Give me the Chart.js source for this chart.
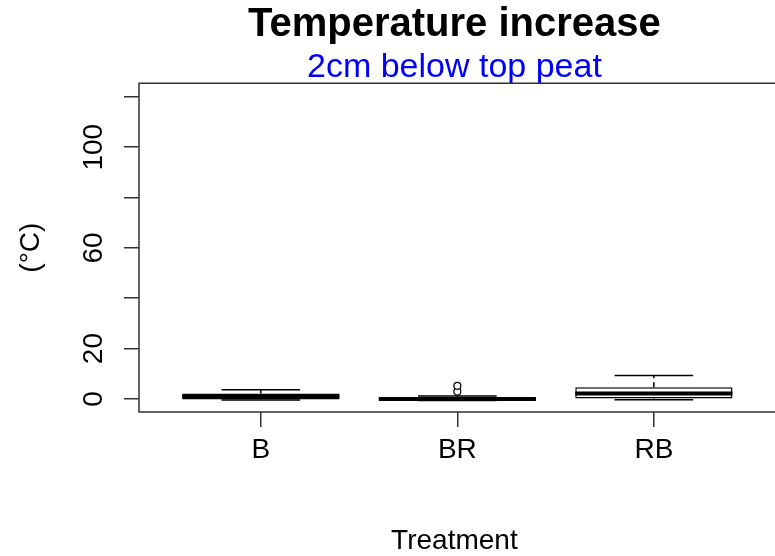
<!DOCTYPE html>
<html>
<head>
<meta charset="utf-8">
<script src="https://cdn.jsdelivr.net/npm/chart.js@4/dist/chart.umd.min.js"></script>
<style>
  html, body { margin: 0; padding: 0; background: #ffffff; }
</style>
</head>
<body>
<canvas id="c" width="775" height="556"></canvas>
<script>
// ---- data ----
const categories   = ['B', 'BR', 'RB'];
const q1Values     = [-0.2, -0.3, 0.2];
const medianValues = [1.0, 0.0, 2.2];
const q3Values     = [2.2, 0.4, 4.6];
const whiskerLow   = [-0.4, -0.6, -0.3];
const whiskerHigh  = [3.6, 1.2, 9.3];
const outlierCat   = ['BR', 'BR'];
const outlierVals  = [2.9, 5.2];
const yTickValues  = [0, 20, 40, 60, 80, 100, 120];
const yTickLabels  = ['0', '20', '', '60', '', '100', ''];

// ---- build datasets ----
const BOX_HALF = 0.4, CAP_HALF = 0.2;
const pos = c => categories.indexOf(c) + 1;

const boxData = categories.map((c, i) => ({ x: i + 1, y: [q1Values[i], q3Values[i]] }));
const whiskerData = [];
const capData = [];
const medianData = [];
categories.forEach((c, i) => {
  const x = i + 1;
  whiskerData.push({ x: x, y: q3Values[i] }, { x: x, y: whiskerHigh[i] }, { x: x, y: null });
  whiskerData.push({ x: x, y: q1Values[i] }, { x: x, y: whiskerLow[i] }, { x: x, y: null });
  capData.push({ x: x - CAP_HALF, y: whiskerHigh[i] }, { x: x + CAP_HALF, y: whiskerHigh[i] }, { x: x, y: null });
  capData.push({ x: x - CAP_HALF, y: whiskerLow[i] }, { x: x + CAP_HALF, y: whiskerLow[i] }, { x: x, y: null });
  medianData.push({ x: x - BOX_HALF, y: medianValues[i] }, { x: x + BOX_HALF, y: medianValues[i] }, { x: x, y: null });
});
const outlierData = outlierCat.map((c, i) => ({ x: pos(c), y: outlierVals[i] }));

Chart.defaults.font.family = "'Liberation Sans', Arial, sans-serif";
Chart.defaults.color = '#000000';

// plot frame (left, top, bottom; the right side lies past the canvas edge)
const frame = {
  id: 'frame',
  afterDraw(chart) {
    const a = chart.chartArea, ctx = chart.ctx;
    ctx.save();
    ctx.strokeStyle = '#333333';
    ctx.lineWidth = 1.5;
    ctx.beginPath();
    ctx.moveTo(chart.width + 2, a.top);
    ctx.lineTo(a.left, a.top);
    ctx.lineTo(a.left, a.bottom);
    ctx.lineTo(chart.width + 2, a.bottom);
    ctx.stroke();
    ctx.restore();
  }
};

new Chart(document.getElementById('c'), {
  type: 'bar',
  data: {
    datasets: [
      { type: 'scatter', data: outlierData, order: 0, pointStyle: 'circle', pointRadius: 3.5,
        backgroundColor: '#ffffff', borderColor: '#000000', borderWidth: 1.2 },
      { type: 'line', data: medianData, order: 1, borderColor: '#000000', borderWidth: 4,
        pointRadius: 0, spanGaps: false, borderCapStyle: 'butt' },
      { type: 'line', data: capData, order: 2, borderColor: '#000000', borderWidth: 1.5,
        pointRadius: 0, spanGaps: false },
      { type: 'line', data: whiskerData, order: 3, borderColor: '#000000', borderWidth: 1.5,
        borderDash: [5, 4], pointRadius: 0, spanGaps: false },
      { type: 'bar', data: boxData, order: 4, backgroundColor: '#ffffff', borderColor: '#000000',
        borderWidth: 1.5, borderSkipped: false, barPercentage: 0.8, categoryPercentage: 1.0 }
    ]
  },
  options: {
    responsive: false,
    animation: false,
    events: [],
    layout: { padding: 0 },
    plugins: {
      legend: { display: false },
      tooltip: { enabled: false },
      title: {
        display: true, text: 'Temperature increase', fullSize: false,
        font: { size: 40, weight: 'bold', lineHeight: 1 }, color: '#000000',
        padding: { top: 5, bottom: 0 }
      },
      subtitle: {
        display: true, text: '2cm below top peat', fullSize: false,
        font: { size: 34, lineHeight: 0.9 }, color: '#0000FF',
        padding: { top: 7.7, bottom: 0 }
      }
    },
    scales: {
      x: {
        type: 'linear', min: 0.38, max: 3.59, offset: false,
        afterBuildTicks: s => { s.ticks = categories.map((c, i) => ({ value: i + 1 })); },
        afterFit: s => { s.height = 144; },
        ticks: { callback: v => categories[v - 1] || '', font: { size: 28 }, padding: 6,
                 maxRotation: 0, minRotation: 0, autoSkip: false, color: '#000000' },
        grid: { offset: false, drawOnChartArea: false, drawTicks: true, tickLength: 15, color: '#333333', lineWidth: 1.5 },
        border: { display: false },
        title: { display: true, text: 'Treatment', font: { size: 28, lineHeight: 1 },
                 padding: { top: 0, bottom: 1 }, color: '#000000' }
      },
      y: {
        type: 'linear', min: -5.2, max: 125.4,
        afterBuildTicks: s => { s.ticks = yTickValues.map(v => ({ value: v })); },
        afterFit: s => { s.width = 139; },
        ticks: { callback: (v, i) => yTickLabels[i], font: { size: 28 }, padding: 6,
                 minRotation: 90, maxRotation: 90, crossAlign: 'center', autoSkip: false, color: '#000000' },
        grid: { drawOnChartArea: false, drawTicks: true, tickLength: 15, color: '#333333', lineWidth: 1.5 },
        border: { display: false },
        title: { display: true, text: '(°C)', font: { size: 28, lineHeight: 1 },
                 padding: { top: 17, bottom: 0 }, color: '#000000' }
      }
    }
  },
  plugins: [frame]
});
</script>
</body>
</html>
